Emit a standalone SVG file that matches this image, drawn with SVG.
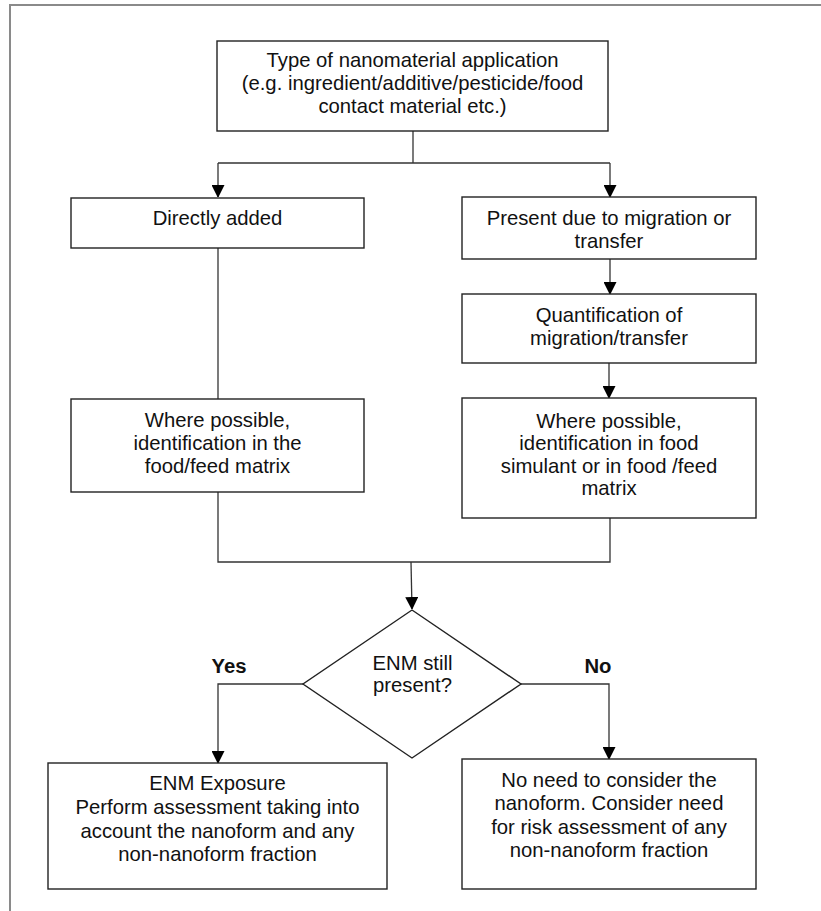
<svg xmlns="http://www.w3.org/2000/svg" width="821" height="911" viewBox="0 0 821 911">
<style>
.box{fill:#fff;stroke:#222;stroke-width:1.4}
.t{font-family:"Liberation Sans",Arial,sans-serif;font-size:20.3px;fill:#111;text-anchor:middle}
.b{font-weight:bold}
.ln{fill:none;stroke:#333;stroke-width:1.3}
</style>
<defs>
<marker id="ah" markerWidth="12" markerHeight="13" refX="12" refY="6.5" orient="auto" markerUnits="userSpaceOnUse">
<path d="M0,0 L13,6.5 L0,13 Z" fill="#000"/>
</marker>
</defs>
<rect width="821" height="911" fill="#fff"/>
<path d="M10,925 V5 H830" fill="none" stroke="#8a8a8a" stroke-width="2"/>
<g id="connectors">
<path class="ln" d="M413,131 V163"/>
<path class="ln" d="M218,163 H610"/>
<path class="ln" d="M218,163 V197" marker-end="url(#ah)"/>
<path class="ln" d="M610,163 V197" marker-end="url(#ah)"/>
<path class="ln" d="M218,248 V399"/>
<path class="ln" d="M610,259 V294" marker-end="url(#ah)"/>
<path class="ln" d="M609,363 V398" marker-end="url(#ah)"/>
<path class="ln" d="M218,492 V562 H610 V518"/>
<path class="ln" d="M411,562 L412,609" marker-end="url(#ah)"/>
<path class="ln" d="M303,684 H218 V763" marker-end="url(#ah)"/>
<path class="ln" d="M521,684 H609 V759" marker-end="url(#ah)"/>
</g>
<g id="n-type">
<rect class="box" x="217" y="41" width="391" height="90"/>
<text class="t" x="412.5" y="67">Type of nanomaterial application</text>
<text class="t" x="412.5" y="90">(e.g. ingredient/additive/pesticide/food</text>
<text class="t" x="412.5" y="113">contact material etc.)</text>
</g>
<g id="n-direct">
<rect class="box" x="71" y="198" width="293" height="50"/>
<text class="t" x="217.5" y="225">Directly added</text>
</g>
<g id="n-migration">
<rect class="box" x="462" y="197" width="294" height="62"/>
<text class="t" x="609" y="225">Present due to migration or</text>
<text class="t" x="609" y="248">transfer</text>
</g>
<g id="n-quant">
<rect class="box" x="462" y="294" width="294" height="69"/>
<text class="t" x="609" y="322">Quantification of</text>
<text class="t" x="609" y="345">migration/transfer</text>
</g>
<g id="n-ident-left">
<rect class="box" x="71" y="399" width="293" height="93"/>
<text class="t" x="217.5" y="427">Where possible,</text>
<text class="t" x="217.5" y="450">identification in the</text>
<text class="t" x="217.5" y="473">food/feed matrix</text>
</g>
<g id="n-ident-right">
<rect class="box" x="462" y="398" width="294" height="120"/>
<text class="t" x="609" y="428">Where possible,</text>
<text class="t" x="609" y="450">identification in food</text>
<text class="t" x="609" y="473">simulant or in food /feed</text>
<text class="t" x="609" y="495">matrix</text>
</g>
<g id="n-decision">
<polygon class="box" points="412,610 521,684 412,758 303,684"/>
<text class="t" x="412.5" y="670">ENM still</text>
<text class="t" x="412.5" y="692">present?</text>
</g>
<g id="labels">
<text class="t b" x="229" y="673">Yes</text>
<text class="t b" x="598" y="673">No</text>
</g>
<g id="n-exposure">
<rect class="box" x="48" y="763" width="339" height="126"/>
<text class="t" x="217.5" y="790">ENM Exposure</text>
<text class="t" x="217.5" y="814">Perform assessment taking into</text>
<text class="t" x="217.5" y="838">account the nanoform and any</text>
<text class="t" x="217.5" y="861">non-nanoform fraction</text>
</g>
<g id="n-noneed">
<rect class="box" x="462" y="759" width="294" height="130"/>
<text class="t" x="609" y="787">No need to consider the</text>
<text class="t" x="609" y="810">nanoform. Consider need</text>
<text class="t" x="609" y="834">for risk assessment of any</text>
<text class="t" x="609" y="857">non-nanoform fraction</text>
</g>
</svg>
